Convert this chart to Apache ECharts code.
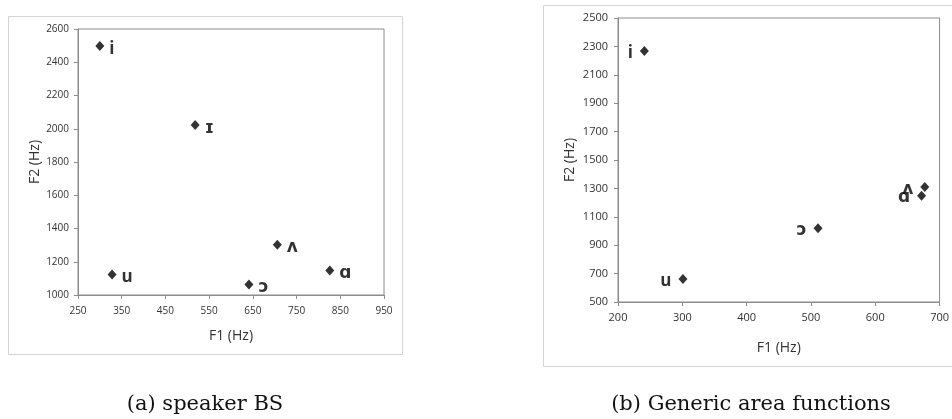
<!DOCTYPE html>
<html>
<head>
<meta charset="utf-8">
<script src="https://cdn.jsdelivr.net/npm/echarts@6/dist/echarts.min.js"></script>
<style>
  html, body { margin: 0; padding: 0; background: #fff; }
  #chart { width: 952px; height: 419px; }
</style>
</head>
<body>
<div id="chart"></div>
<script>
// (a) speaker BS: vowel formants
const vowelsA = ['i', 'ɪ', 'ʌ', 'ɑ', 'u', 'ɔ'];
const f1A = [300, 518, 706, 826, 328, 641];
const f2A = [2498, 2022, 1303, 1148, 1123, 1063];

// (b) generic area functions: vowel formants
const vowelsB = ['i', 'u', 'ɔ', 'ɑ', 'ʌ'];
const f1B = [241, 301, 511, 672, 677];
const f2B = [2268, 662, 1020, 1249, 1310];

// axis ranges and tick steps
const xTicksA = { min: 250, max: 950, interval: 100 };
const yTicksA = { min: 1000, max: 2600, interval: 200 };
const xTicksB = { min: 200, max: 700, interval: 100 };
const yTicksB = { min: 500, max: 2500, interval: 200 };

const captions = ['(a) speaker BS', '(b) Generic area functions'];

const axisGray = '#8c8c8c';
const textGray = '#333333';
const uiFont = '"Open Sans", "DejaVu Sans", sans-serif';

function toPoints(names, xs, ys) {
  return names.map((n, i) => ({ name: n, value: [xs[i], ys[i]] }));
}

function valueAxis(ticks, gridIndex, name, nameGap, fontSize, margin, isY) {
  return {
    type: 'value',
    gridIndex: gridIndex,
    min: ticks.min,
    max: ticks.max,
    interval: ticks.interval,
    name: name,
    nameLocation: 'middle',
    nameGap: nameGap,
    nameRotate: isY ? 90 : 0,
    nameTextStyle: { color: textGray, fontSize: 14, fontFamily: uiFont },
    axisLine: { show: true, lineStyle: { color: axisGray, width: 1 } },
    axisTick: { show: true, inside: false, length: 4, lineStyle: { color: axisGray } },
    axisLabel: {
      color: textGray, fontSize: fontSize, fontFamily: uiFont, margin: margin,
      formatter: v => String(v)
    },
    splitLine: { show: false }
  };
}

function vowelSeries(points, idx, position, offset) {
  return {
    type: 'scatter',
    xAxisIndex: idx,
    yAxisIndex: idx,
    data: points,
    symbol: 'diamond',
    symbolSize: [9, 10],
    itemStyle: { color: '#000' },
    label: {
      show: true,
      position: position,
      distance: 5,
      offset: offset,
      formatter: p => p.name,
      color: '#000',
      fontSize: 17,
      fontWeight: 'bold',
      fontFamily: uiFont
    },
    emphasis: { disabled: true },
    animation: false
  };
}

const chart = echarts.init(document.getElementById('chart'), null, { renderer: 'canvas' });

chart.setOption({
  backgroundColor: '#fff',
  animation: false,
  grid: [
    { left: 78, top: 29, width: 306, height: 266, show: true, borderColor: axisGray, borderWidth: 1, backgroundColor: 'transparent' },
    { left: 618, top: 18, width: 325, height: 284, show: true, borderColor: axisGray, borderWidth: 1, backgroundColor: 'transparent' }
  ],
  xAxis: [
    valueAxis(xTicksA, 0, 'F1 (Hz)', 34, 10, 11, false),
    valueAxis(xTicksB, 1, 'F1 (Hz)', 39, 11, 10, false)
  ],
  yAxis: [
    valueAxis(yTicksA, 0, 'F2 (Hz)', 36, 10, 9, true),
    valueAxis(yTicksB, 1, 'F2 (Hz)', 41, 11, 10, true)
  ],
  series: [
    vowelSeries(toPoints(vowelsA, f1A, f2A), 0, 'right', [0, 3]),
    vowelSeries(toPoints(vowelsB, f1B, f2B), 1, 'left', [-2, 2])
  ],
  graphic: [
    { type: 'rect', shape: { x: 8.5, y: 16.5, width: 394, height: 338 }, style: { fill: 'none', stroke: '#d4d4d4', lineWidth: 1 }, z: -1, silent: true },
    { type: 'rect', shape: { x: 543.5, y: 5.5, width: 430, height: 361 }, style: { fill: 'none', stroke: '#d4d4d4', lineWidth: 1 }, z: -1, silent: true },
    { type: 'text', x: 205, y: 405, style: { text: captions[0], fill: '#111', font: '21px "DejaVu Serif", serif', align: 'center', verticalAlign: 'middle' }, silent: true },
    { type: 'text', x: 751, y: 405, style: { text: captions[1], fill: '#111', font: '21px "DejaVu Serif", serif', align: 'center', verticalAlign: 'middle' }, silent: true }
  ]
});
</script>
</body>
</html>
